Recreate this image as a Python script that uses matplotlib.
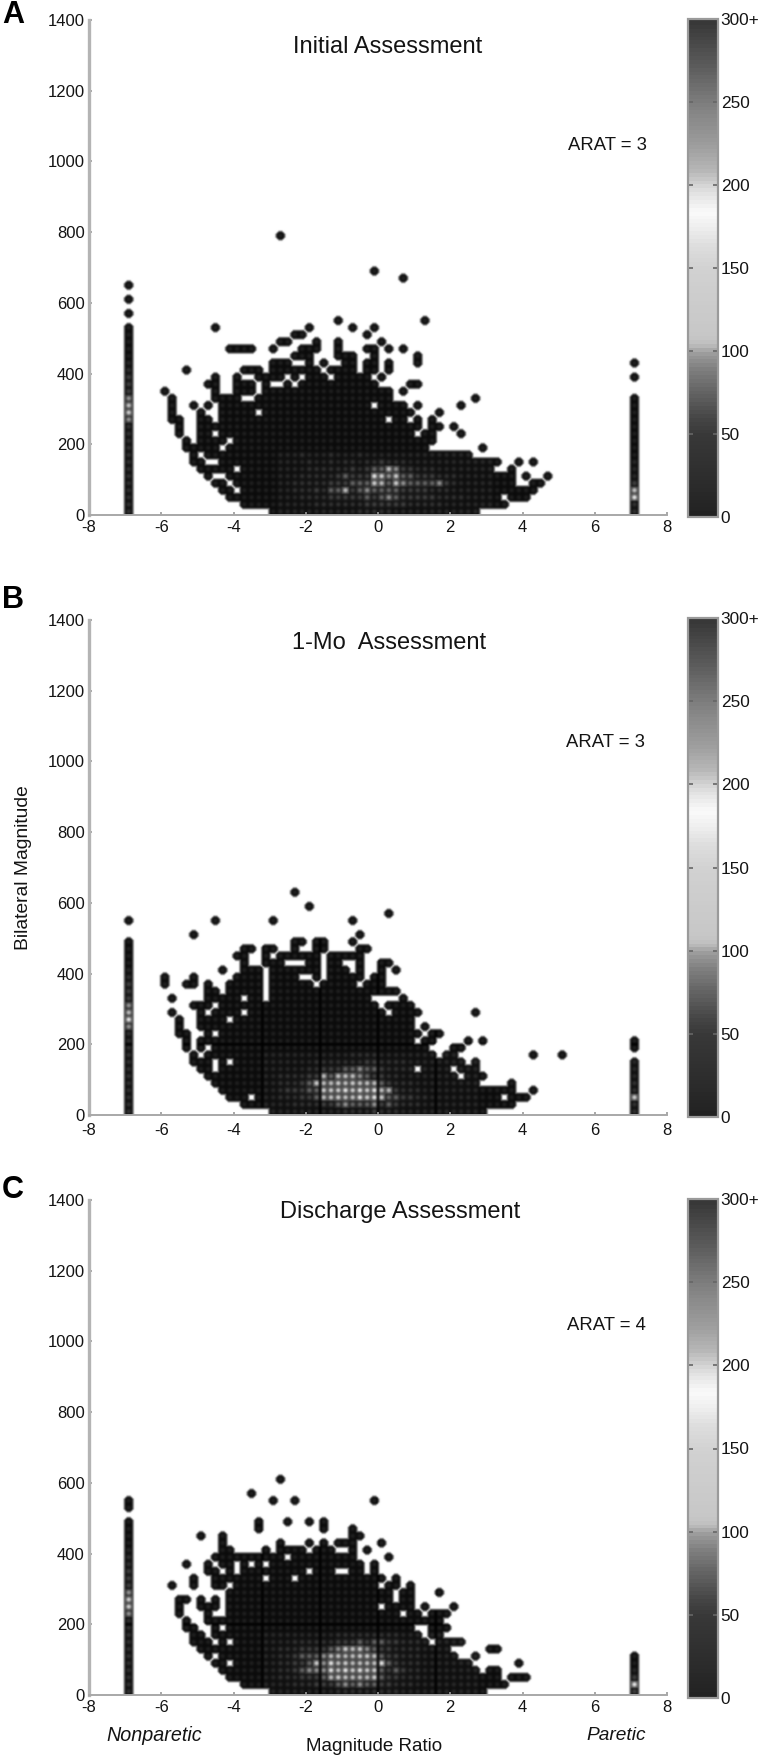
import matplotlib
matplotlib.use("Agg")
import matplotlib.pyplot as plt
from matplotlib.cm import ScalarMappable
from matplotlib.colors import LinearSegmentedColormap, Normalize
import numpy as np

W, H = 761, 1760
plt.rcParams["font.family"] = ["Liberation Sans", "DejaVu Sans"]
plt.rcParams["axes.unicode_minus"] = False

# occupied bins per row, bottom row first. x bin = 0.2 wide from -8, y bin = 20 high from 0
rows_a = [
    "25-53", "21-57", "19-56 58-60", "18 19 21-61", "17 18 20-58 61 62",
    "16 19-58 60 63", "15-19 21-55 58", "14 15 18-56 59 61", "14 16-52", "13-17 19-46 54",
    "13 15-18 20-47", "12 15 16 18-44 46 47 51", "12 15-45 47 48 50", "11 12 15 16 18-40 42 43 45 47",
    "11 15 18-22 24-44 48", "11 14 16 18-38 40-43 45 51", "11 17-20 23-41 53", "10 17 20-22 24-41 43",
    "16 17 20-22 24 27 29-39 44 45", "17 20 23-26 28 30-32 34-38 40", "13 21-23 25-31 33-36 38 39 41",
    "25-27 30 32 35 36 38 39 41 45", "28-30 34-36 39 45", "19-22 25 29-31 34 38 39 41 43",
    "26 27 31 34 40", "28 29 38", "17 30 36 39", "34 46", "", "", "", "", "", "43", "39",
    "", "", "", "", "26",
]
rows_b = [
    "25-54", "21-58", "19-21 23-56 58-60", "18-58 61", "17-53 58", "16-50 52-54",
    "15 16 18-44 46-49 51-53", "14-16 18 20-51 53", "14 16-47 49 50 61 65", "13 15 17-46 50 51",
    "13 15-44 46 47 52 54", "12 13 16 18-45 47 48", "12 15-44 46", "12 15-18 20-44",
    "11 15 17-20 22-40 42-45 53", "14-16 18-39 41-44", "11 16-20 22 23 25-38 43", "16 17 19-23 25-42",
    "10 13 14 16 19-23 25-30 32-36 38-40", "10 14 20-23 25-28 31 33-37 39 40",
    "18 21-23 25-31 33-35 37 40 42", "21 24-26 30 31 33 34 37 40 41", "20 21 24 26-31 33-37",
    "21 22 24 25 28 31 32 37 38", "28 29 31 32 36", "14 37", "", "17 25 36", "41", "30", "", "28",
]
rows_c = [
    "25-54", "21-57", "19-56 58-60", "18-53 55 56", "17 18 20-52 59", "16 18-50 53", "15-49 55 56",
    "14-16 18 20-46 48-51", "14 15 17-45 47 48", "13 14 17 19-44 47-49", "13 16-48",
    "12 16 19-42 44 45 47-49", "12 15-17 19-39 41-44 46 50", "12 13 15 17 19-41 43 44",
    "19-41 43 44 48", "11 14 17 18 20-39 41 42 44", "14 17-23 25-27 29-40 42",
    "16 17 19 21-29 31-33 36 37 39", "13 16 18 19 21 23 25-37 39", "17-26 28-36 41",
    "18 19 24 26-29 31-33 36 38", "18 26 30 32 34-36 40", "15 18 36 37", "23 32 36",
    "23 27 30 32", "", "", "25 28 39", "22", "", "26",
]

# counts / 20 in the bright part of each panel, bottom row first
hot_a_start = 26
hot_a = [
    "111111111112222211111111111111",
    "111112222222333333222221111111",
    "111222233333434543333322221111",
    "112223244634544443333222111111",
    "112222233344486485444453211111",
    "111222223433398584433322211111",
    "111122222232344753322211111111",
    "111121121221223222111111111111",
    "111211121112111111111111111111",
]
hot_b_start = 24
hot_b = [
    "111111111112222322211111111111",
    "111122223345444534322211111111",
    "112223346787798984433221111111",
    "112333448889898976322211111111",
    "112223486687877643222111111111",
    "112222336477754332211111111111",
    "111111223334454432222111111111",
    "111111122222223322221111111111",
    "111111111111222211111111111111",
]
hot_c_start = 24
hot_c = [
    "111111111122222222211111111111",
    "111122233345454433222111111111",
    "112223334687676843322211111111",
    "112234555979898843432211111111",
    "112233485968677794322211111111",
    "112234445676788743322211111111",
    "112223333458785433222211111111",
    "111122222233343443322211111111",
    "111111111122222222211111111111",
]

# the two end columns (x = -6.9 and x = 7.1), bottom row first, blank = empty
left_col = 5
right_col = 75
left_a = "2222222222222587533321" + "00000 0 0 0"
right_a = "22973111000000000  0 0"
left_b = "222222222222596533321" + "0000  0"
right_b = "22822111 00"
left_c = "22222222222588533322" + "10000 00"
right_c = "393100"

titles = ["Initial Assessment", "1-Mo  Assessment", "Discharge Assessment"]
arat = ["ARAT = 3", "ARAT = 3", "ARAT = 4"]
letters = ["A", "B", "C"]
xticks = [-8, -6, -4, -2, 0, 2, 4, 6, 8]
yticks = [0, 200, 400, 600, 800, 1000, 1200, 1400]
bar_ticks = [0, 50, 100, 150, 200, 250, 300]
bar_labels = ["0", "50", "100", "150", "200", "250", "300+"]

# gray level of the colour bar
bar_values = [0, 25, 50, 60, 70, 80, 90, 100, 105, 110, 150, 165, 175, 185, 195, 200, 210, 225, 250, 270, 285, 300]
bar_grays = [0.13, 0.18, 0.22, 0.27, 0.35, 0.42, 0.5, 0.62, 0.75, 0.78, 0.82, 0.87, 0.93, 0.98, 0.9, 0.85, 0.72,
             0.62, 0.5, 0.38, 0.3, 0.22]
cmap = LinearSegmentedColormap.from_list(
    "bar", [(v / 300, (g, g, g)) for v, g in zip(bar_values, bar_grays)], N=128)
norm = Normalize(0, 300)

NX, NY, SUB = 80, 70, 5
rim = np.array([
    [0.35, 0.4, 0.45, 0.4, 0.35],
    [0.4, 0.65, 0.85, 0.65, 0.4],
    [0.45, 0.85, 1.0, 0.85, 0.45],
    [0.4, 0.65, 0.85, 0.65, 0.4],
    [0.35, 0.4, 0.45, 0.4, 0.35],
])
HALO = 0.42
CORNER = 0.3


def parse_row(text):
    cols = []
    for part in text.split():
        if "-" in part:
            a, b = part.split("-")
            cols.extend(range(int(a), int(b) + 1))
        else:
            cols.append(int(part))
    return cols


def build_image(rows, hot, hot_start, left, right, lines_x=(), lines_y=()):
    vals = np.full((NY, NX), np.nan)
    for j, row in enumerate(rows):
        for i in parse_row(row):
            vals[j, i] = 0
    for j, row in enumerate(hot):
        for k, ch in enumerate(row):
            i = hot_start + k
            if not np.isnan(vals[j, i]):
                vals[j, i] = int(ch) * 20
    for col, text in ((left_col, left), (right_col, right)):
        for j, ch in enumerate(text):
            if ch != " ":
                vals[j, col] = int(ch) * 20

    full = ~np.isnan(vals)
    img = np.ones((NY * SUB, NX * SUB))
    for j in range(NY):
        for i in range(NX):
            if full[j, i]:
                g = cmap(norm(vals[j, i]))[0]
                img[j * SUB:(j + 1) * SUB, i * SUB:(i + 1) * SUB] = g * rim
    filled = img < 1

    # dark cells bleed a little over their empty neighbours, and their free corners get round
    for j in range(NY - 1):
        for i in range(1, NX - 1):
            if not full[j, i]:
                continue
            y0, x0 = j * SUB, i * SUB
            y1, x1 = y0 + SUB, x0 + SUB
            below = j == 0 or full[j - 1, i]
            above = full[j + 1, i]
            ya = y0 if below else y0 + 1
            yb = y1 if above else y1 - 1
            xa = x0 if full[j, i - 1] else x0 + 1
            xb = x1 if full[j, i + 1] else x1 - 1
            if not full[j, i - 1]:
                img[ya:yb, x0 - 1] = HALO
            if not full[j, i + 1]:
                img[ya:yb, x1] = HALO
            if not below:
                img[y0 - 1, xa:xb] = HALO
            if not above:
                img[y1, xa:xb] = HALO
            if not below and not full[j, i - 1]:
                img[y0, x0] = CORNER
            if not below and not full[j, i + 1]:
                img[y0, x1 - 1] = CORNER
            if not above and not full[j, i - 1]:
                img[y1 - 1, x0] = CORNER
            if not above and not full[j, i + 1]:
                img[y1 - 1, x1 - 1] = CORNER

    for x in lines_x:
        c = int(round((x + 8) / 0.2)) * SUB
        img[:, c - 1:c + 1][filled[:, c - 1:c + 1]] *= 0.35
    for y in lines_y:
        c = int(round(y / 20)) * SUB
        img[c - 1:c + 1, :][filled[c - 1:c + 1, :]] *= 0.35
    return img


def px_axes(left, top, right, bottom):
    return fig.add_axes([left / W, 1 - bottom / H, (right - left) / W, (bottom - top) / H])


def put_text(x, y, s, **kw):
    fig.text(x / W, 1 - y / H, s, ha=kw.pop("ha", "center"), va=kw.pop("va", "center"),
             color=kw.pop("color", "#141414"), **kw)


fig = plt.figure(figsize=(W / 100, H / 100), dpi=100, facecolor="white")

panels = [
    dict(img=build_image(rows_a, hot_a, hot_a_start, left_a, right_a), top=20, bottom=515, bar_top=19, bar_bottom=517,
         title_xy=(388, 47), arat_xy=(607, 145), letter_y=15, pad=3.5),
    dict(img=build_image(rows_b, hot_b, hot_b_start, left_b, right_b, (-3.2, -1.6, 0, 1.6), (200,)),
         top=620, bottom=1115, bar_top=618, bar_bottom=1117, title_xy=(389, 643), arat_xy=(606, 742), letter_y=600,
         pad=6),
    dict(img=build_image(rows_c, hot_c, hot_c_start, left_c, right_c, (-3.2, -1.6, 0, 1.6), (200,)),
         top=1200, bottom=1695, bar_top=1199, bar_bottom=1698, title_xy=(400, 1212), arat_xy=(606, 1325),
         letter_y=1190, pad=3.5),
]

for n, p in enumerate(panels):
    ax = px_axes(89, p["top"], 667, p["bottom"])
    ax.imshow(p["img"], extent=[-8, 8, 0, 1400], origin="lower", aspect="auto", cmap="gray", vmin=0, vmax=1,
              interpolation="bicubic")
    ax.set_xlim(-8, 8)
    ax.set_ylim(0, 1400)
    ax.set_xticks(xticks)
    ax.set_yticks(yticks)
    ax.spines["top"].set_visible(False)
    ax.spines["right"].set_visible(False)
    ax.spines["left"].set_color("#b4b4b4")
    ax.spines["left"].set_linewidth(2.4)
    ax.spines["bottom"].set_color("#a8a8a8")
    ax.spines["bottom"].set_linewidth(1.4)
    ax.tick_params(axis="both", direction="in", length=2.5, width=1.2, color="#999999", labelsize=12,
                   labelcolor="#141414")
    ax.tick_params(axis="x", pad=p["pad"])
    ax.tick_params(axis="y", pad=3)

    cax = px_axes(688, p["bar_top"], 718, p["bar_bottom"])
    cb = fig.colorbar(ScalarMappable(norm=norm, cmap=cmap), cax=cax)
    cb.solids.set_edgecolor("face")
    cb.set_ticks(bar_ticks)
    cb.set_ticklabels(bar_labels)
    cb.outline.set_edgecolor("#9a9a9a")
    cb.outline.set_linewidth(1.6)
    cax.tick_params(axis="y", which="both", left=True, right=True, direction="in", length=3.5, width=1.2,
                    color="#666666", labelsize=12.4, labelcolor="#141414", pad=2)

    put_text(*p["title_xy"], titles[n], fontsize=17)
    put_text(*p["arat_xy"], arat[n], fontsize=13.3)
    put_text(2, p["letter_y"], letters[n], fontsize=22, fontweight="bold", ha="left", color="black")

put_text(24, 868, "Bilateral Magnitude", fontsize=13.9, rotation=90)
put_text(374, 1746, "Magnitude Ratio", fontsize=13.5)
put_text(154, 1735, "Nonparetic", fontsize=14.2, style="italic")
put_text(616, 1735, "Paretic", fontsize=13.8, style="italic")

fig.savefig("out.png", dpi=100, facecolor="white")
